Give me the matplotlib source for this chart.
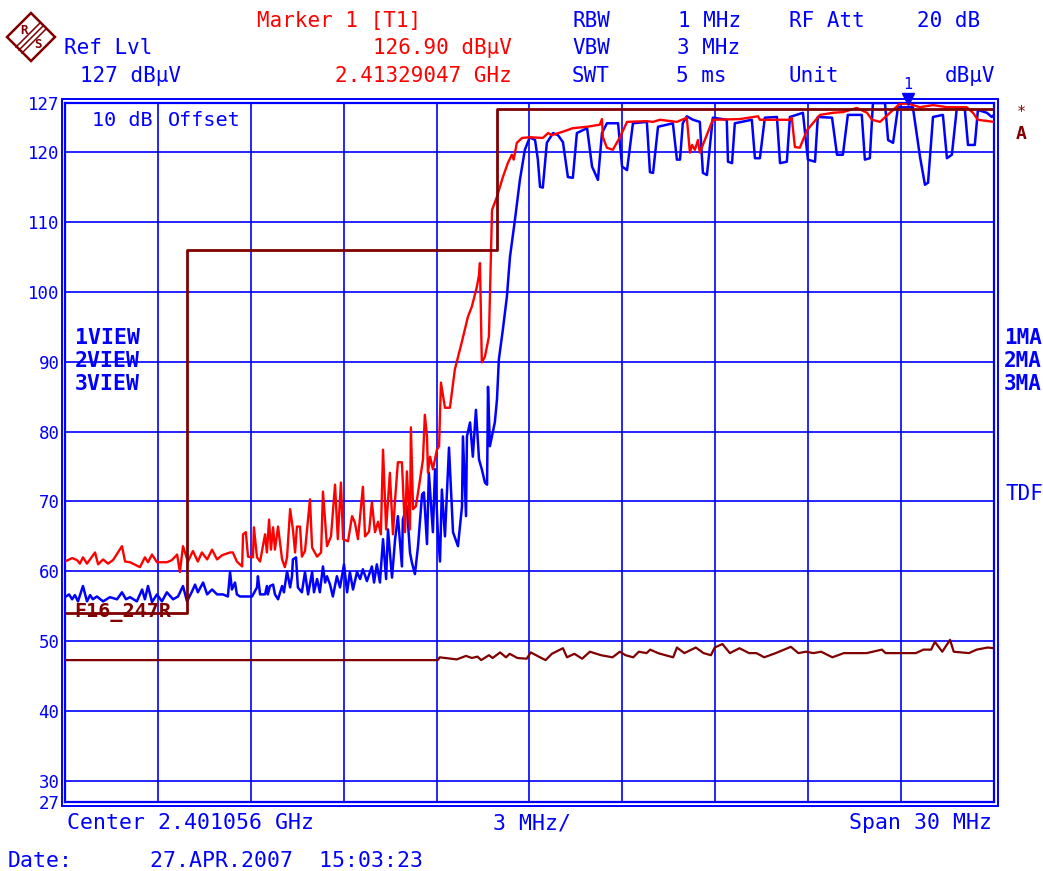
import numpy as np
import matplotlib.pyplot as plt
from matplotlib.patches import Polygon, Rectangle
from matplotlib.lines import Line2D
import matplotlib.transforms as mtransforms

# R&S spectrum analyzer screen: 2.4 GHz band edge, 3 traces + limit line F16_247R

F_START = 2386.056     # MHz  (center 2401.056 MHz, span 30 MHz)
F_SPAN = 30.0
REF_LVL = 127
BOTTOM_LVL = 27
GRID_LVLS = [30, 40, 50, 60, 70, 80, 90, 100, 110, 120]
YTICKS = [27, 30, 40, 50, 60, 70, 80, 90, 100, 110, 120, 127]

MARKER_F = 2413.29047   # MHz
MARKER_LVL = 126.90     # dBuV

# trace 1 (red) - offset from start frequency in MHz, level in dBuV
red_off = [0.00, 0.23, 0.39, 0.48, 0.58, 0.71, 0.97, 1.07, 1.23, 1.39,
           1.55, 1.84, 1.94, 2.10, 2.42, 2.58, 2.68, 2.81, 2.97, 3.29,
           3.45, 3.62, 3.71, 3.81, 3.97, 4.13, 4.29, 4.42, 4.59, 4.75,
           4.91, 5.07, 5.33, 5.42, 5.55, 5.72, 5.75, 5.84, 5.91, 6.07,
           6.10, 6.20, 6.30, 6.46, 6.52, 6.59, 6.65, 6.72, 6.78, 6.88,
           7.01, 7.10, 7.17, 7.27, 7.36, 7.43, 7.49, 7.59, 7.65, 7.75,
           7.91, 7.98, 8.14, 8.27, 8.33, 8.46, 8.59, 8.72, 8.81, 8.91,
           8.98, 9.14, 9.27, 9.36, 9.46, 9.62, 9.69, 9.82, 9.91, 10.01,
           10.11, 10.20, 10.27, 10.37, 10.49, 10.59, 10.66, 10.75, 10.88, 10.98,
           11.04, 11.14, 11.17, 11.24, 11.33, 11.43, 11.56, 11.62, 11.69, 11.72,
           11.79, 11.88, 12.01, 12.08, 12.14, 12.27, 12.43, 12.59, 12.82, 13.01,
           13.14, 13.30, 13.37, 13.40, 13.46, 13.56, 13.69, 13.76, 13.79, 13.95,
           14.14, 14.30, 14.43, 14.49, 14.59, 14.76, 15.01, 15.43, 15.60, 15.72,
           16.08, 16.40, 16.86, 17.27, 17.34, 17.37, 17.50, 17.69, 17.92, 18.15,
           18.79, 18.99, 19.21, 19.76, 20.08, 20.18, 20.25, 20.34, 20.44, 20.50,
           20.92, 21.79, 22.38, 22.44, 23.41, 23.47, 23.57, 23.73, 23.96, 24.38,
           24.80, 25.12, 25.57, 25.90, 26.06, 26.32, 26.74, 26.96, 27.23, 27.38,
           27.61, 28.03, 28.48, 29.12, 29.32, 29.48, 30.00]
red_lvl = [61.4, 61.9, 61.6, 61.1, 62.0, 61.1, 62.7, 61.0, 61.7, 61.1,
           61.6, 63.6, 61.4, 61.3, 60.6, 62.0, 61.3, 62.4, 61.3, 61.3,
           61.6, 62.4, 59.9, 63.6, 61.4, 62.9, 61.4, 62.7, 61.7, 63.1,
           61.7, 62.3, 62.7, 62.7, 61.4, 60.7, 65.3, 65.6, 62.1, 62.0,
           66.3, 62.0, 61.4, 65.3, 62.7, 67.4, 63.1, 66.3, 63.1, 66.4,
           61.7, 60.6, 62.0, 68.9, 66.0, 62.7, 66.4, 66.4, 62.1, 62.9,
           70.3, 63.4, 62.1, 62.7, 71.4, 63.6, 65.0, 72.4, 64.6, 72.7,
           64.6, 64.3, 67.9, 67.0, 64.6, 72.1, 65.0, 65.7, 69.9, 65.6,
           67.1, 65.3, 77.4, 66.0, 74.1, 65.3, 70.3, 75.6, 75.6, 65.6,
           74.3, 66.0, 80.6, 68.9, 69.3, 72.1, 76.0, 82.4, 79.3, 74.1,
           76.4, 74.6, 77.4, 77.9, 87.0, 83.4, 83.4, 88.9, 92.9, 96.4,
           97.9, 100.7, 102.4, 104.1, 89.9, 90.7, 93.6, 106.0, 111.7, 113.6,
           116.4, 118.4, 119.6, 118.9, 121.3, 122.0, 122.1, 122.0, 122.7, 122.4,
           122.9, 123.4, 123.6, 123.9, 124.7, 122.1, 120.6, 120.3, 122.1, 124.3,
           124.4, 124.3, 124.6, 124.3, 124.9, 119.9, 121.0, 120.3, 121.7, 119.9,
           124.6, 124.7, 125.1, 124.6, 124.6, 124.9, 120.7, 120.6, 123.1, 125.3,
           125.6, 125.7, 126.3, 125.6, 124.6, 124.3, 126.0, 126.9, 126.9, 126.7,
           126.4, 126.7, 126.4, 126.4, 125.6, 124.6, 124.3]

# trace 2 (blue)
blue_off = [0.00, 0.13, 0.23, 0.32, 0.42, 0.58, 0.71, 0.81, 0.90, 1.03,
            1.23, 1.45, 1.68, 1.84, 1.97, 2.10, 2.32, 2.49, 2.58, 2.68,
            2.81, 2.97, 3.13, 3.29, 3.49, 3.65, 3.81, 3.94, 4.10, 4.20,
            4.29, 4.46, 4.59, 4.75, 4.91, 5.10, 5.26, 5.33, 5.39, 5.49,
            5.55, 5.65, 6.04, 6.20, 6.23, 6.30, 6.46, 6.52, 6.55, 6.62,
            6.72, 6.78, 6.88, 7.01, 7.07, 7.17, 7.27, 7.33, 7.36, 7.46,
            7.52, 7.65, 7.75, 7.85, 7.98, 8.04, 8.14, 8.23, 8.33, 8.40,
            8.46, 8.56, 8.65, 8.78, 8.88, 9.01, 9.11, 9.20, 9.30, 9.43,
            9.53, 9.62, 9.75, 9.91, 9.98, 10.07, 10.17, 10.27, 10.37, 10.43,
            10.56, 10.66, 10.75, 10.88, 10.91, 11.04, 11.14, 11.20, 11.30, 11.40,
            11.53, 11.59, 11.69, 11.75, 11.88, 11.95, 12.04, 12.11, 12.17, 12.27,
            12.40, 12.53, 12.69, 12.82, 12.85, 12.95, 12.98, 13.08, 13.17, 13.27,
            13.37, 13.46, 13.56, 13.63, 13.66, 13.72, 13.88, 13.95, 14.01, 14.14,
            14.27, 14.37, 14.53, 14.69, 14.85, 15.01, 15.18, 15.27, 15.34, 15.43,
            15.56, 15.76, 15.92, 16.08, 16.24, 16.40, 16.53, 16.86, 17.02, 17.21,
            17.34, 17.50, 17.86, 17.99, 18.15, 18.34, 18.79, 18.89, 18.99, 19.15,
            19.63, 19.76, 19.86, 19.95, 20.08, 20.28, 20.50, 20.60, 20.73, 20.92,
            21.37, 21.41, 21.54, 21.63, 22.18, 22.28, 22.44, 22.60, 22.99, 23.09,
            23.31, 23.41, 23.83, 23.99, 24.22, 24.31, 24.77, 24.93, 25.12, 25.28,
            25.73, 25.83, 25.99, 26.09, 26.48, 26.58, 26.74, 26.90, 27.38, 27.61,
            27.77, 27.87, 28.03, 28.35, 28.48, 28.64, 28.80, 29.06, 29.16, 29.38,
            29.48, 29.77, 29.93, 30.00]
blue_lvl = [56.3, 56.7, 56.0, 56.6, 55.7, 57.9, 55.7, 56.6, 56.0, 56.4,
            55.7, 56.3, 56.0, 57.0, 56.0, 56.3, 55.7, 57.4, 56.0, 57.9,
            55.6, 56.7, 55.7, 57.0, 56.0, 56.4, 57.9, 55.7, 57.1, 58.1,
            57.0, 58.4, 56.7, 57.4, 56.7, 56.7, 56.4, 59.9, 57.4, 58.4,
            56.7, 56.4, 56.4, 57.7, 59.3, 56.7, 56.7, 57.9, 56.7, 57.9,
            58.1, 56.7, 56.0, 57.9, 57.0, 60.0, 57.7, 59.3, 61.7, 62.0,
            57.7, 57.0, 59.9, 56.7, 59.9, 57.0, 58.9, 57.0, 60.7, 58.4,
            59.3, 58.1, 56.4, 59.3, 57.7, 61.0, 57.0, 59.9, 57.4, 59.9,
            58.9, 60.3, 58.6, 60.7, 58.4, 61.0, 58.4, 64.6, 58.9, 66.0,
            59.1, 64.6, 67.9, 60.7, 67.4, 69.3, 62.7, 61.3, 59.6, 63.6,
            71.0, 71.3, 63.9, 74.1, 65.6, 74.6, 65.6, 61.4, 71.7, 65.0,
            77.7, 65.6, 63.6, 69.3, 79.3, 67.9, 79.3, 81.3, 76.4, 83.1,
            76.0, 74.6, 72.7, 72.4, 86.4, 77.9, 81.3, 84.6, 90.3, 94.6,
            99.3, 105.0, 110.3, 116.0, 120.3, 122.1, 121.7, 118.9, 115.0, 114.9,
            121.3, 122.7, 122.4, 121.4, 116.4, 116.3, 122.7, 123.4, 117.9, 116.0,
            122.7, 124.1, 124.1, 117.9, 117.4, 124.1, 124.3, 117.1, 117.0, 123.6,
            124.1, 118.9, 118.9, 124.1, 125.1, 124.6, 124.3, 117.0, 116.7, 124.9,
            124.6, 118.6, 118.4, 124.1, 124.6, 119.1, 119.1, 124.9, 125.0, 118.4,
            118.6, 125.0, 125.6, 118.9, 118.6, 125.0, 124.9, 119.6, 119.6, 125.3,
            125.3, 118.9, 119.1, 127.0, 127.0, 121.7, 121.3, 126.4, 126.4, 119.3,
            115.3, 115.6, 125.0, 125.3, 119.1, 119.6, 126.3, 126.0, 121.0, 121.0,
            126.0, 125.6, 125.0, 125.3]

# trace 3 (dark red)
t3_off = [0.00, 12.04, 12.10, 12.65, 12.95, 13.14, 13.32, 13.44, 13.69, 13.81,
          14.05, 14.24, 14.36, 14.61, 14.91, 15.04, 15.34, 15.52, 15.72, 16.08,
          16.21, 16.45, 16.70, 16.95, 17.31, 17.68, 17.92, 18.10, 18.35, 18.53,
          18.78, 18.90, 19.15, 19.39, 19.64, 19.76, 20.00, 20.37, 20.62, 20.86,
          20.98, 21.23, 21.47, 21.78, 22.09, 22.33, 22.58, 22.95, 23.44, 23.68,
          23.93, 24.17, 24.42, 24.78, 25.15, 25.52, 25.89, 26.38, 26.50, 27.11,
          27.48, 27.72, 27.97, 28.09, 28.33, 28.58, 28.70, 29.19, 29.44, 29.80,
          30.00]
t3_lvl = [47.3, 47.3, 47.7, 47.4, 47.9, 47.6, 47.8, 47.3, 48.0, 47.6,
          48.4, 47.7, 48.2, 47.6, 47.5, 48.4, 47.7, 47.3, 48.2, 49.0,
          47.7, 48.2, 47.5, 48.5, 48.0, 47.7, 48.5, 48.0, 47.7, 48.5,
          48.3, 48.8, 48.3, 48.0, 47.7, 49.1, 48.3, 49.1, 48.3, 48.0,
          49.1, 49.6, 48.3, 49.0, 48.3, 48.3, 47.7, 48.3, 49.2, 48.3,
          48.5, 48.3, 48.5, 47.7, 48.3, 48.3, 48.3, 48.8, 48.3, 48.3,
          48.3, 48.8, 48.8, 49.9, 48.5, 50.2, 48.5, 48.3, 48.8, 49.1,
          49.0]

# limit line F16_247R (absolute MHz)
lim_f = [F_START, 2390.0, 2390.0, 2400.0, 2400.0, F_START + F_SPAN]
lim_lvl = [54.1, 54.1, 106.0, 106.0, 126.1, 126.1]

W, H = 1043, 871
BLUE = '#0000ff'
RED = '#ff0000'
DRED = '#800000'
MONO = 'DejaVu Sans Mono'

fig = plt.figure(figsize=(W / 100, H / 100), dpi=100)
ax = fig.add_axes([65 / W, 1 - 802 / H, (994 - 65) / W, (802 - 103) / H])


def px_text(x, y, s, **kw):
    kw.setdefault('family', MONO)
    kw.setdefault('fontsize', 15)
    kw.setdefault('va', 'center')
    kw.setdefault('color', BLUE)
    return fig.text(x / W, 1 - y / H, s, **kw)


def fp(x, y):
    return (x / W, 1 - y / H)


# grid
for v in GRID_LVLS:
    ax.axhline(v, color=BLUE, lw=1.2, zorder=1)
for f in np.arange(F_START + 3, F_START + F_SPAN - 1, 3):
    ax.axvline(f, color=BLUE, lw=1.2, zorder=1)

# traces
ax.plot(F_START + np.array(t3_off), t3_lvl, color=DRED, lw=1.6, zorder=3)
ax.plot(F_START + np.array(blue_off), blue_lvl, color=BLUE, lw=1.8, zorder=4)
ax.plot(F_START + np.array(red_off), red_lvl, color=RED, lw=1.7, zorder=5)
ax.plot(lim_f, lim_lvl, color=DRED, lw=2.0, zorder=6)
ax.text(F_START + 0.3, lim_lvl[0], 'F16_247R', color=DRED, family=MONO,
        fontsize=14.5, fontweight='bold', va='center', zorder=7)

ax.set_xlim(F_START, F_START + F_SPAN)
ax.set_ylim(BOTTOM_LVL, REF_LVL)
ax.set_xticks([])
ax.set_yticks(YTICKS)
ax.set_yticklabels([str(v) for v in YTICKS])
ax.tick_params(axis='y', length=0, pad=4, labelcolor=BLUE, labelsize=12.5)
for lbl in ax.get_yticklabels():
    lbl.set_family(MONO)
for s in ax.spines.values():
    s.set_color(BLUE)
    s.set_linewidth(1.6)

# outer frame line (double border)
x0, y0 = fp(61.5, 805.5)
x1, y1 = fp(997.5, 99.5)
fig.add_artist(Rectangle((x0, y0), x1 - x0, y1 - y0, transform=fig.transFigure,
                         fill=False, ec=BLUE, lw=1.4))

# marker
mk_trans = mtransforms.offset_copy(ax.transData, fig=fig, x=0, y=5, units='dots')
ax.plot([MARKER_F], [MARKER_LVL], marker='v', color=BLUE, ms=9,
        transform=mk_trans, clip_on=False, zorder=8)
ax.annotate('1', (MARKER_F, MARKER_LVL), xytext=(-1, 19), textcoords='offset pixels',
            ha='center', va='center', color=BLUE, fontsize=11, family=MONO)

# R&S logo
fig.add_artist(Polygon([fp(31, 13), fp(55, 37), fp(31, 61), fp(7, 37)], closed=True,
                       transform=fig.transFigure, fill=False, ec=DRED, lw=1.8))
for d in (-3, 0, 3):
    fig.add_artist(Line2D([fp(19 + d, 50 + d)[0], fp(43 + d, 26 + d)[0]],
                          [fp(19 + d, 50 + d)[1], fp(43 + d, 26 + d)[1]],
                          transform=fig.transFigure, color=DRED, lw=1.1))
px_text(24, 31, 'R', color=DRED, fontsize=9, fontweight='bold', ha='center')
px_text(38, 45, 'S', color=DRED, fontsize=9, fontweight='bold', ha='center')

# header
px_text(64, 48, 'Ref Lvl')
px_text(80, 76, '127 dBµV')
px_text(257, 21, 'Marker 1 [T1]', color=RED)
px_text(512, 48, '126.90 dBµV', color=RED, ha='right')
px_text(512, 76, '2.41329047 GHz', color=RED, ha='right')
px_text(572, 21, 'RBW')
px_text(678, 21, '1 MHz')
px_text(789, 21, 'RF Att')
px_text(917, 21, '20 dB')
px_text(572, 48, 'VBW')
px_text(677, 48, '3 MHz')
px_text(572, 76, 'SWT')
px_text(676, 76, '5 ms')
px_text(789, 76, 'Unit')
px_text(945, 76, 'dBµV')

# inside screen labels
px_text(153, 120, '10 dB', ha='right', fontsize=14.5)
px_text(168, 120, 'Offset', fontsize=14.5)
for i, s in enumerate(['1VIEW', '2VIEW', '3VIEW']):
    px_text(75, 338 + 23 * i, s, fontweight='bold', fontsize=15.5)
for i, s in enumerate(['1MA', '2MA', '3MA']):
    px_text(1004, 338 + 23 * i, s, fontweight='bold')
px_text(1006, 494, 'TDF')
px_text(1021, 113, '*', color=DRED, fontsize=11, ha='center')
px_text(1021, 134, 'A', color=DRED, fontsize=13, fontweight='bold', ha='center')

# footer
px_text(67, 823, 'Center 2.401056 GHz', fontsize=15.5)
px_text(493, 823, '3 MHz/', fontsize=15.5)
px_text(992, 823, 'Span 30 MHz', ha='right', fontsize=15.5)
px_text(8, 861, 'Date:', fontsize=15.5)
px_text(150, 861, '27.APR.2007  15:03:23', fontsize=15.5)

fig.savefig('out.png', dpi=100)
